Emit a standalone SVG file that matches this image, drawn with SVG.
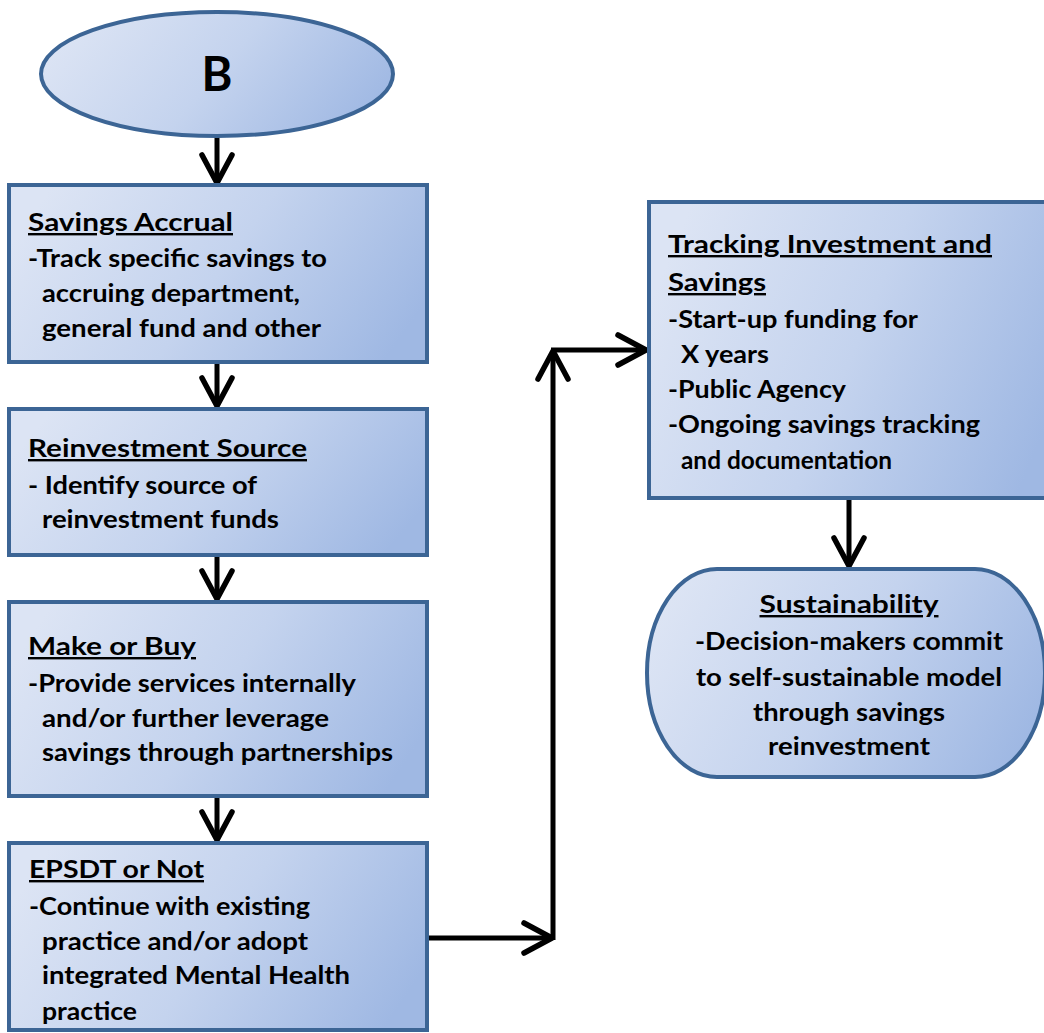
<svg xmlns="http://www.w3.org/2000/svg" width="1044" height="1033" viewBox="0 0 1044 1033">
<style>
  .node { stroke: #3c6595; stroke-width: 4; fill: url(#grad); }
  .t { font-family: Lato, "Open Sans", "Liberation Sans", sans-serif; font-weight: bold; font-size: 24px; fill: #000; }
  .h { text-decoration: underline; }
  .c { text-anchor: middle; }
  .conn { stroke: #000; stroke-width: 5; fill: none; marker-end: url(#arr); }
</style>
<defs>
  <linearGradient id="grad" x1="0" y1="0.35" x2="1" y2="0.65">
    <stop offset="0" stop-color="#dce4f4"/>
    <stop offset="0.5" stop-color="#c4d3ee"/>
    <stop offset="1" stop-color="#9fb8e3"/>
  </linearGradient>
  <marker id="arr" markerUnits="userSpaceOnUse" viewBox="-34 -20 40 40" refX="0" refY="0" markerWidth="40" markerHeight="40" orient="auto">
    <path d="M -28 -15 L 0 0 L -28 15" fill="none" stroke="#000" stroke-width="5.5" stroke-linecap="round" stroke-linejoin="round"/>
  </marker>
</defs>
<rect width="1044" height="1033" fill="#fff"/>

<g id="connectors">
  <line class="conn" x1="217" y1="137" x2="217" y2="183"/>
  <line class="conn" x1="217" y1="364" x2="217" y2="406"/>
  <line class="conn" x1="217" y1="557" x2="217" y2="599"/>
  <line class="conn" x1="217" y1="798" x2="217" y2="840"/>
  <line class="conn" x1="427" y1="938" x2="552" y2="938"/>
  <line class="conn" x1="553" y1="940" x2="553" y2="351"/>
  <line class="conn" x1="551" y1="350" x2="646" y2="350"/>
  <line class="conn" x1="849" y1="500" x2="849" y2="566"/>
</g>

<g id="nodeB">
  <ellipse class="node" cx="217" cy="74" rx="176" ry="62"/>
  <text class="t c" x="217" y="91" style="font-size:47px">B</text>
</g>

<g id="savingsAccrual">
  <rect class="node" x="9" y="185" width="418" height="177"/>
  <text class="t h" x="28" y="231" textLength="205" lengthAdjust="spacingAndGlyphs">Savings Accrual</text>
  <text class="t" x="28" y="267" textLength="299" lengthAdjust="spacingAndGlyphs">-Track specific savings to</text>
  <text class="t" x="42" y="302" textLength="258" lengthAdjust="spacingAndGlyphs">accruing department,</text>
  <text class="t" x="42" y="337" textLength="279" lengthAdjust="spacingAndGlyphs">general fund and other</text>
</g>

<g id="reinvestmentSource">
  <rect class="node" x="9" y="409" width="418" height="146"/>
  <text class="t h" x="28" y="457" textLength="279" lengthAdjust="spacingAndGlyphs">Reinvestment Source</text>
  <text class="t" x="28" y="494" textLength="229" lengthAdjust="spacingAndGlyphs">- Identify source of</text>
  <text class="t" x="42" y="528" textLength="237" lengthAdjust="spacingAndGlyphs">reinvestment funds</text>
</g>

<g id="makeOrBuy">
  <rect class="node" x="9" y="602" width="418" height="194"/>
  <text class="t h" x="28" y="655" textLength="168" lengthAdjust="spacingAndGlyphs">Make or Buy</text>
  <text class="t" x="28" y="692" textLength="328" lengthAdjust="spacingAndGlyphs">-Provide services internally</text>
  <text class="t" x="42" y="727" textLength="287" lengthAdjust="spacingAndGlyphs">and/or further leverage</text>
  <text class="t" x="42" y="761" textLength="351" lengthAdjust="spacingAndGlyphs">savings through partnerships</text>
</g>

<g id="epsdt">
  <rect class="node" x="9" y="843" width="418" height="187"/>
  <text class="t h" x="29" y="878" textLength="175" lengthAdjust="spacingAndGlyphs">EPSDT or Not</text>
  <text class="t" x="29" y="915" textLength="281" lengthAdjust="spacingAndGlyphs">-Continue with existing</text>
  <text class="t" x="42" y="950" textLength="266" lengthAdjust="spacingAndGlyphs">practice and/or adopt</text>
  <text class="t" x="42" y="984" textLength="308" lengthAdjust="spacingAndGlyphs">integrated Mental Health</text>
  <text class="t" x="42" y="1020" textLength="95" lengthAdjust="spacingAndGlyphs">practice</text>
</g>

<g id="tracking">
  <rect class="node" x="649" y="202" width="410" height="296"/>
  <text class="t h" x="668" y="253" textLength="324" lengthAdjust="spacingAndGlyphs">Tracking Investment and</text>
  <text class="t h" x="668" y="291" textLength="98" lengthAdjust="spacingAndGlyphs">Savings</text>
  <text class="t" x="668" y="328" textLength="250" lengthAdjust="spacingAndGlyphs">-Start-up funding for</text>
  <text class="t" x="681" y="363" textLength="88" lengthAdjust="spacingAndGlyphs">X years</text>
  <text class="t" x="668" y="398" textLength="178" lengthAdjust="spacingAndGlyphs">-Public Agency</text>
  <text class="t" x="668" y="433" textLength="312" lengthAdjust="spacingAndGlyphs">-Ongoing savings tracking</text>
  <text class="t" x="681" y="469" textLength="211" lengthAdjust="spacingAndGlyphs">and documentation</text>
</g>

<g id="sustainability">
  <path class="node" d="M 717 569 H 975 A 70 104 0 0 1 975 777 H 717 A 70 104 0 0 1 717 569 Z"/>
  <text class="t c h" x="849" y="613" textLength="179" lengthAdjust="spacingAndGlyphs">Sustainability</text>
  <text class="t c" x="849" y="650" textLength="308" lengthAdjust="spacingAndGlyphs">-Decision-makers commit</text>
  <text class="t c" x="849" y="686" textLength="306" lengthAdjust="spacingAndGlyphs">to self-sustainable model</text>
  <text class="t c" x="849" y="721" textLength="192" lengthAdjust="spacingAndGlyphs">through savings</text>
  <text class="t c" x="849" y="755" textLength="162" lengthAdjust="spacingAndGlyphs">reinvestment</text>
</g>
</svg>
